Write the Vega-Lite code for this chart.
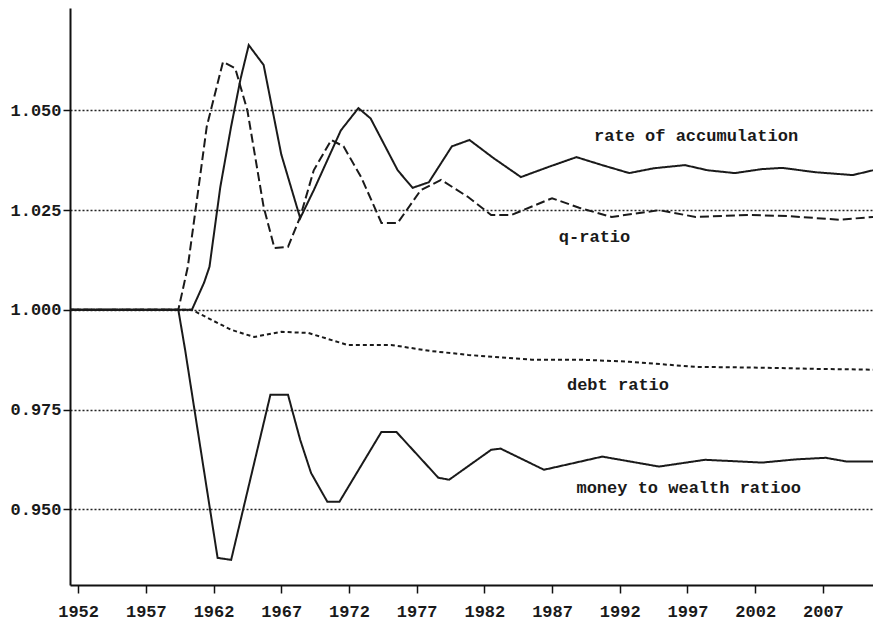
{
  "$schema": "https://vega.github.io/schema/vega-lite/v6.json",
  "width": 803,
  "height": 577,
  "autosize": "none",
  "padding": {"left": 70, "top": 8, "right": 0, "bottom": 45},
  "background": "white",
  "config": {
    "view": {"stroke": null},
    "axis": {"labelFont": "Liberation Mono", "labelFontWeight": "bold", "labelFontSize": 17, "labelColor": "#1a1a1a", "domainColor": "#111", "domainWidth": 2, "tickColor": "#111", "tickWidth": 1.5, "title": null}
  },
  "datasets": {
    "series": [
      {"series": "acc", "year": 1951.4, "value": 1.0},
      {"series": "acc", "year": 1960.4, "value": 1.0},
      {"series": "acc", "year": 1961.3, "value": 1.0068},
      {"series": "acc", "year": 1961.7, "value": 1.0108},
      {"series": "acc", "year": 1962.5, "value": 1.0308},
      {"series": "acc", "year": 1963.3, "value": 1.046},
      {"series": "acc", "year": 1964.0, "value": 1.058},
      {"series": "acc", "year": 1964.6, "value": 1.0664},
      {"series": "acc", "year": 1965.7, "value": 1.0614},
      {"series": "acc", "year": 1967.0, "value": 1.039},
      {"series": "acc", "year": 1968.4, "value": 1.023},
      {"series": "acc", "year": 1969.4, "value": 1.030},
      {"series": "acc", "year": 1971.4, "value": 1.045},
      {"series": "acc", "year": 1972.7, "value": 1.0506},
      {"series": "acc", "year": 1973.6, "value": 1.048},
      {"series": "acc", "year": 1975.6, "value": 1.035},
      {"series": "acc", "year": 1976.7, "value": 1.0306},
      {"series": "acc", "year": 1977.9, "value": 1.032},
      {"series": "acc", "year": 1979.6, "value": 1.041},
      {"series": "acc", "year": 1980.9, "value": 1.0426},
      {"series": "acc", "year": 1982.7, "value": 1.038},
      {"series": "acc", "year": 1984.7, "value": 1.0333},
      {"series": "acc", "year": 1986.7, "value": 1.0358},
      {"series": "acc", "year": 1988.8, "value": 1.0383},
      {"series": "acc", "year": 1990.7, "value": 1.0363},
      {"series": "acc", "year": 1992.7, "value": 1.0343},
      {"series": "acc", "year": 1994.5, "value": 1.0355},
      {"series": "acc", "year": 1996.8, "value": 1.0363},
      {"series": "acc", "year": 1998.5, "value": 1.035},
      {"series": "acc", "year": 2000.5, "value": 1.0343},
      {"series": "acc", "year": 2002.5, "value": 1.0353},
      {"series": "acc", "year": 2004.0, "value": 1.0356},
      {"series": "acc", "year": 2006.5, "value": 1.0345},
      {"series": "acc", "year": 2009.2, "value": 1.0338},
      {"series": "acc", "year": 2010.7, "value": 1.035},
      {"series": "q", "year": 1951.4, "value": 1.0},
      {"series": "q", "year": 1959.4, "value": 1.0},
      {"series": "q", "year": 1960.1, "value": 1.0108},
      {"series": "q", "year": 1961.0, "value": 1.0333},
      {"series": "q", "year": 1961.5, "value": 1.046},
      {"series": "q", "year": 1962.7, "value": 1.0622},
      {"series": "q", "year": 1963.6, "value": 1.0606},
      {"series": "q", "year": 1964.5, "value": 1.050},
      {"series": "q", "year": 1965.7, "value": 1.0258},
      {"series": "q", "year": 1966.5, "value": 1.0155},
      {"series": "q", "year": 1967.5, "value": 1.0158},
      {"series": "q", "year": 1968.4, "value": 1.0233},
      {"series": "q", "year": 1969.4, "value": 1.035},
      {"series": "q", "year": 1970.7, "value": 1.0426},
      {"series": "q", "year": 1971.6, "value": 1.041},
      {"series": "q", "year": 1972.9, "value": 1.0333},
      {"series": "q", "year": 1974.4, "value": 1.0218},
      {"series": "q", "year": 1975.6, "value": 1.0218},
      {"series": "q", "year": 1977.3, "value": 1.030},
      {"series": "q", "year": 1978.8, "value": 1.0326},
      {"series": "q", "year": 1980.8, "value": 1.0283},
      {"series": "q", "year": 1982.5, "value": 1.0238},
      {"series": "q", "year": 1984.0, "value": 1.0238},
      {"series": "q", "year": 1987.0, "value": 1.028},
      {"series": "q", "year": 1989.0, "value": 1.0256},
      {"series": "q", "year": 1991.4, "value": 1.0233},
      {"series": "q", "year": 1994.9, "value": 1.025},
      {"series": "q", "year": 1997.6, "value": 1.0233},
      {"series": "q", "year": 2001.6, "value": 1.0238},
      {"series": "q", "year": 2004.5, "value": 1.0235},
      {"series": "q", "year": 2008.2, "value": 1.0226},
      {"series": "q", "year": 2010.7, "value": 1.0233},
      {"series": "debt", "year": 1951.4, "value": 1.0},
      {"series": "debt", "year": 1960.4, "value": 1.0},
      {"series": "debt", "year": 1963.3, "value": 0.995},
      {"series": "debt", "year": 1965.0, "value": 0.9932},
      {"series": "debt", "year": 1967.0, "value": 0.9945},
      {"series": "debt", "year": 1969.0, "value": 0.9942},
      {"series": "debt", "year": 1971.9, "value": 0.9912},
      {"series": "debt", "year": 1975.1, "value": 0.9912},
      {"series": "debt", "year": 1978.0, "value": 0.9897},
      {"series": "debt", "year": 1980.8, "value": 0.9887},
      {"series": "debt", "year": 1985.5, "value": 0.9875},
      {"series": "debt", "year": 1989.2, "value": 0.9875},
      {"series": "debt", "year": 1992.7, "value": 0.987},
      {"series": "debt", "year": 1997.6, "value": 0.9857},
      {"series": "debt", "year": 2002.5, "value": 0.9855},
      {"series": "debt", "year": 2006.5, "value": 0.9852},
      {"series": "debt", "year": 2010.7, "value": 0.985},
      {"series": "money", "year": 1951.4, "value": 1.0},
      {"series": "money", "year": 1959.4, "value": 1.0},
      {"series": "money", "year": 1959.9, "value": 0.990},
      {"series": "money", "year": 1962.3, "value": 0.9378},
      {"series": "money", "year": 1963.3, "value": 0.9373},
      {"series": "money", "year": 1966.2, "value": 0.9787},
      {"series": "money", "year": 1967.5, "value": 0.9787},
      {"series": "money", "year": 1968.4, "value": 0.9674},
      {"series": "money", "year": 1969.2, "value": 0.9591},
      {"series": "money", "year": 1970.4, "value": 0.9519},
      {"series": "money", "year": 1971.3, "value": 0.9519},
      {"series": "money", "year": 1974.4, "value": 0.9694},
      {"series": "money", "year": 1975.5, "value": 0.9694},
      {"series": "money", "year": 1978.6, "value": 0.9579},
      {"series": "money", "year": 1979.4, "value": 0.9574},
      {"series": "money", "year": 1982.5, "value": 0.9649},
      {"series": "money", "year": 1983.2, "value": 0.9652},
      {"series": "money", "year": 1986.4, "value": 0.9599},
      {"series": "money", "year": 1988.5, "value": 0.9615},
      {"series": "money", "year": 1990.7, "value": 0.9632},
      {"series": "money", "year": 1994.9, "value": 0.9607},
      {"series": "money", "year": 1998.3, "value": 0.9624},
      {"series": "money", "year": 2002.5, "value": 0.9617},
      {"series": "money", "year": 2005.0, "value": 0.9625},
      {"series": "money", "year": 2007.2, "value": 0.9629},
      {"series": "money", "year": 2008.7, "value": 0.962},
      {"series": "money", "year": 2010.7, "value": 0.962}
    ],
    "labels": [
      {"label": "rate of accumulation", "year": 1990.1, "value": 1.0436},
      {"label": "q-ratio", "year": 1987.5, "value": 1.0183},
      {"label": "debt ratio", "year": 1988.1, "value": 0.9812},
      {"label": "money to wealth ratioo", "year": 1988.8, "value": 0.9554}
    ]
  },
  "layer": [
    {
      "data": {"name": "series"},
      "mark": {"type": "line", "color": "#1a1a1a", "strokeWidth": 2, "clip": true},
      "encoding": {
        "x": {
          "field": "year", "type": "quantitative",
          "scale": {"domain": [1951.4, 2010.7], "nice": false, "zero": false},
          "axis": {"values": [1952, 1957, 1962, 1967, 1972, 1977, 1982, 1987, 1992, 1997, 2002, 2007], "format": "d", "grid": false, "tickSize": 8, "labelPadding": 10}
        },
        "y": {
          "field": "value", "type": "quantitative",
          "scale": {"domain": [0.931, 1.0757], "nice": false, "zero": false},
          "axis": {"values": [0.95, 0.975, 1.0, 1.025, 1.05], "format": ".3f", "grid": true, "gridColor": "#222", "gridWidth": 1.5, "gridDash": [2, 2], "tickSize": 7, "labelPadding": 2}
        },
        "detail": {"field": "series"},
        "strokeDash": {
          "field": "series", "type": "nominal",
          "scale": {"domain": ["acc", "q", "debt", "money"], "range": [[1, 0], [9, 4], [4, 3], [1, 0]]},
          "legend": null
        }
      }
    },
    {
      "data": {"name": "labels"},
      "mark": {"type": "text", "align": "left", "baseline": "middle", "font": "Liberation Mono", "fontWeight": "bold", "fontSize": 17, "color": "#1a1a1a"},
      "encoding": {
        "x": {"field": "year", "type": "quantitative"},
        "y": {"field": "value", "type": "quantitative"},
        "text": {"field": "label"}
      }
    }
  ]
}
